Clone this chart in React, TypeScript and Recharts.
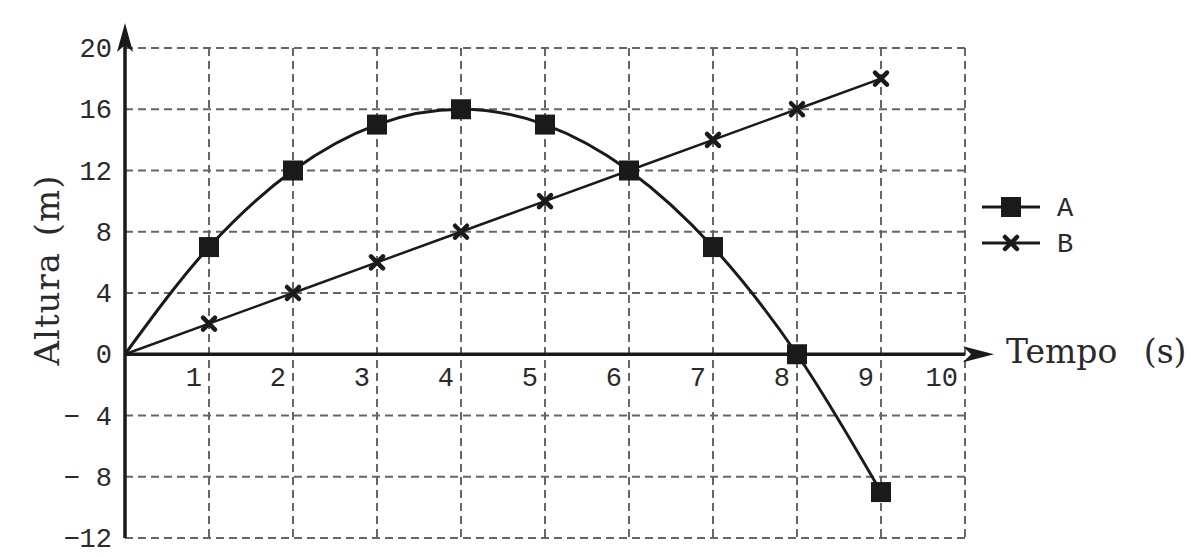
import React from "react";
import {
  LineChart,
  Line,
  XAxis,
  YAxis,
  CartesianGrid,
  ReferenceLine,
  ReferenceDot,
  Legend,
} from "recharts";

// Tempo (s) and Altura (m)
const tempo = [0, 1, 2, 3, 4, 5, 6, 7, 8, 9];
const alturaA = [0, 7, 12, 15, 16, 15, 12, 7, 0, -9];
const alturaB = [0, 2, 4, 6, 8, 10, 12, 14, 16, 18];
const xTicks = [0, 1, 2, 3, 4, 5, 6, 7, 8, 9, 10];
const yTicks = [-12, -8, -4, 0, 4, 8, 12, 16, 20];
const seriesNames = ["A", "B"];

const data = tempo.map((t, i) => ({ t, A: alturaA[i], B: alturaB[i] }));

const W = 1200;
const H = 557;
const TOP = 48;
const LEFT = 125;
const RIGHT = 965;
const BOTTOM = 538;
const Y_MIN = -12;
const Y_MAX = 20;
const ZERO_Y = TOP + ((BOTTOM - TOP) * Y_MAX) / (Y_MAX - Y_MIN);

const INK = "#1a1a1a";
const TEXT = "#2a2a2a";
const MONO = "'Liberation Mono', 'DejaVu Sans Mono', monospace";
const SERIF = "'DejaVu Serif', 'Liberation Serif', serif";

function fmtY(v: number) {
  if (v >= 0) return String(v);
  return v > -10 ? `\u2212 ${-v}` : `\u2212${-v}`;
}

function XTick(props: any) {
  const { x, payload } = props;
  if (payload.value === 0) return <g />;
  return (
    <text x={x - 7} y={ZERO_Y + 32} textAnchor="end" fontFamily={MONO} fontSize={27} fill={TEXT}>
      {payload.value}
    </text>
  );
}

function YTick(props: any) {
  const { y, payload } = props;
  return (
    <text x={LEFT - 13} y={y + 9} textAnchor="end" fontFamily={MONO} fontSize={27} fill={TEXT}>
      {fmtY(payload.value)}
    </text>
  );
}

function SquareDot(props: any) {
  const { cx, cy, index } = props;
  if (index === 0) return <g key={`a${index}`} />;
  return <rect key={`a${index}`} x={cx - 10} y={cy - 10} width={20} height={20} fill={INK} />;
}

function CrossDot(props: any) {
  const { cx, cy, index } = props;
  if (index === 0) return <g key={`b${index}`} />;
  return (
    <g key={`b${index}`} stroke={INK} strokeWidth={4.5} strokeLinecap="round">
      <line x1={cx - 6} y1={cy - 6} x2={cx + 6} y2={cy + 6} />
      <line x1={cx - 6} y1={cy + 6} x2={cx + 6} y2={cy - 6} />
    </g>
  );
}

function XArrow(props: any) {
  const { cx, cy } = props;
  return (
    <path d={`M${cx + 29} ${cy} L${cx - 2} ${cy - 8} L${cx + 6} ${cy} L${cx - 2} ${cy + 8} Z`} fill={INK} />
  );
}

function YArrow(props: any) {
  const { cx, cy } = props;
  return (
    <g>
      <line x1={cx} y1={cy} x2={cx} y2={cy - 10} stroke={INK} strokeWidth={3.5} />
      <path d={`M${cx} ${cy - 25} L${cx - 8} ${cy + 4} L${cx} ${cy - 3} L${cx + 8} ${cy + 4} Z`} fill={INK} />
    </g>
  );
}

function YTitle() {
  return (
    <text
      x={47}
      y={270}
      transform="rotate(-90 47 270)"
      textAnchor="middle"
      dominantBaseline="central"
      fontFamily={SERIF}
      fontSize={34}
      fill={TEXT}
      letterSpacing={1}
      wordSpacing={4}
    >
      Altura (m)
    </text>
  );
}

function XTitle() {
  return (
    <text x={1006} y={363} fontFamily={SERIF} fontSize={33} fill={TEXT} wordSpacing={16}>
      Tempo (s)
    </text>
  );
}

function LegendBox() {
  return (
    <svg width={130} height={80}>
      {seriesNames.map((name, i) => {
        const y = 17 + i * 36;
        return (
          <g key={name}>
            <line x1={2} y1={y} x2={60} y2={y} stroke={INK} strokeWidth={3} />
            {i === 0 ? (
              <rect x={21} y={y - 10} width={20} height={20} fill={INK} />
            ) : (
              <g stroke={INK} strokeWidth={4.5} strokeLinecap="round">
                <line x1={25} y1={y - 6} x2={37} y2={y + 6} />
                <line x1={25} y1={y + 6} x2={37} y2={y - 6} />
              </g>
            )}
            <text x={77} y={y + 9} fontFamily={MONO} fontSize={27} fill={TEXT}>
              {name}
            </text>
          </g>
        );
      })}
    </svg>
  );
}

export default function App() {
  return (
    <div style={{ position: "absolute", left: 0, top: 0, width: W, height: H, background: "#fff" }}>
      <LineChart
        width={W}
        height={H}
        data={data}
        margin={{ top: TOP, left: LEFT - 60, right: W - RIGHT, bottom: H - BOTTOM - 1 }}
      >
        <CartesianGrid stroke="#666" strokeWidth={2} strokeDasharray="8 5" />
        <XAxis
          dataKey="t"
          type="number"
          domain={[0, 10]}
          ticks={xTicks}
          interval={0}
          axisLine={false}
          tickLine={false}
          height={1}
          tick={<XTick />}
          label={<XTitle />}
        />
        <YAxis
          type="number"
          domain={[Y_MIN, Y_MAX]}
          ticks={yTicks}
          interval={0}
          width={60}
          axisLine={{ stroke: INK, strokeWidth: 3.5 }}
          tickLine={false}
          tick={<YTick />}
          label={<YTitle />}
        />
        <ReferenceLine y={0} stroke={INK} strokeWidth={3.5} />
        <ReferenceDot x={10} y={0} r={0} ifOverflow="visible" shape={<XArrow />} />
        <ReferenceDot x={0} y={20} r={0} ifOverflow="visible" shape={<YArrow />} />
        <Legend
          layout="horizontal"
          verticalAlign="middle"
          align="center"
          content={<LegendBox />}
          wrapperStyle={{ position: "absolute", left: 980, top: 190, width: 130, height: 80 }}
        />
        <Line
          dataKey="A"
          type="monotone"
          stroke={INK}
          strokeWidth={3}
          dot={<SquareDot />}
          activeDot={false}
          isAnimationActive={false}
        />
        <Line
          dataKey="B"
          type="linear"
          stroke={INK}
          strokeWidth={2.5}
          dot={<CrossDot />}
          activeDot={false}
          isAnimationActive={false}
        />
      </LineChart>
    </div>
  );
}
